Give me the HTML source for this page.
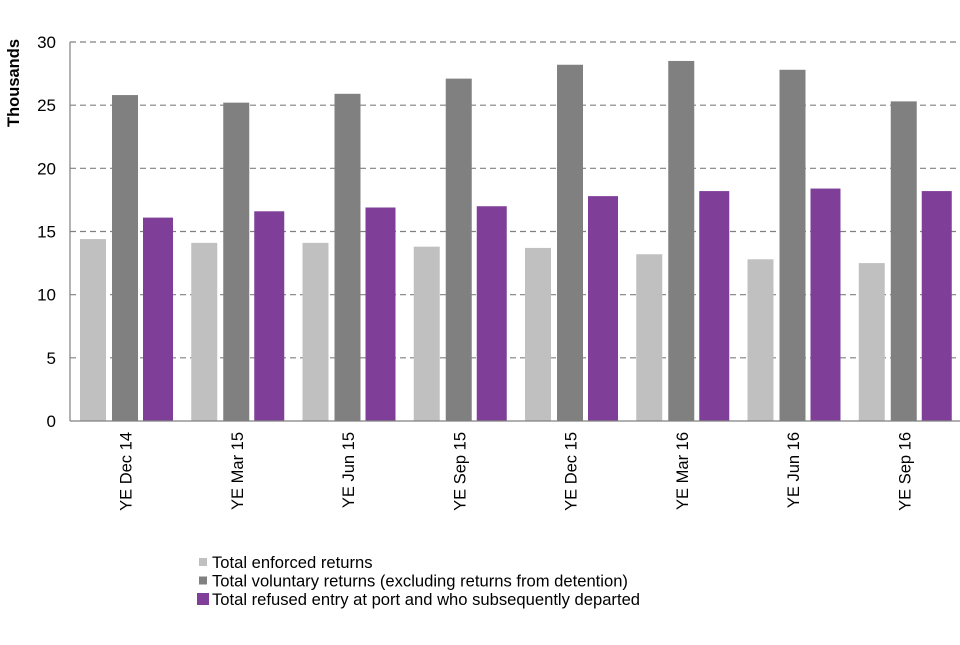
<!DOCTYPE html>
<html><head><meta charset="utf-8"><style>
body{margin:0;background:#fff;font-family:"Liberation Sans",Arial,sans-serif}
svg text{font-family:"Liberation Sans",Arial,sans-serif}
</style></head><body>
<svg width="960" height="640" viewBox="0 0 960 640">
<g id="grid"></g><g id="bars"></g><g id="axes"></g><g id="legend"></g>
</svg>
<script>
const categories=["YE Dec 14","YE Mar 15","YE Jun 15","YE Sep 15","YE Dec 15","YE Mar 16","YE Jun 16","YE Sep 16"];
const enforced=[14.4,14.1,14.1,13.8,13.7,13.2,12.8,12.5];
const voluntary=[25.8,25.2,25.9,27.1,28.2,28.5,27.8,25.3];
const refused=[16.1,16.6,16.9,17.0,17.8,18.2,18.4,18.2];
const yTicks=[0,5,10,15,20,25,30];
const seriesNames=["Total enforced returns","Total voluntary returns (excluding returns from detention)","Total refused entry at port and who subsequently departed"];
const NS="http://www.w3.org/2000/svg";
const X0=70,X1=960,Y0=421,Y1=42,YMAX=30;
const catW=(X1-X0)/categories.length;
const y=v=>Y0-(v/YMAX)*(Y0-Y1);
const xc=i=>X0+i*catW;
function mk(tag,attrs,parent){const e=document.createElementNS(NS,tag);for(const k in attrs)e.setAttribute(k,attrs[k]);parent.appendChild(e);return e;}
const grid=document.getElementById('grid'),bars=document.getElementById('bars'),axes=document.getElementById('axes'),legend=document.getElementById('legend');
yTicks.forEach(t=>{
 if(t>0){const l=mk('line',{x1:X0,x2:X1,y1:y(t),y2:y(t),stroke:'#808080','stroke-width':1.2,'stroke-dasharray':'6,4'},grid);
 
 }
 const tx=mk('text',{x:56,y:y(t)+6,'text-anchor':'end','font-size':17,fill:'#000'},axes);tx.textContent=t;
 
 
});
const series=[{d:enforced,c:'#c0c0c0',off:10,w:26,n:'enforced'},{d:voluntary,c:'#808080',off:42,w:26,n:'voluntary'},{d:refused,c:'#7f3f98',off:73,w:30,n:'refused'}];
categories.forEach((cat,i)=>{
 series.forEach(s=>{
  const r=mk('rect',{x:xc(i)+s.off,y:y(s.d[i]),width:s.w,height:Y0-y(s.d[i]),fill:s.c},bars);
  
  
 });
 const cx=xc(i)+catW/2;
 const t=mk('text',{x:0,y:0,'text-anchor':'end','font-size':16.5,fill:'#000',transform:`translate(${cx+6},432) rotate(-90)`},axes);
 t.textContent=cat;
 
 
});
const ya=mk('line',{x1:X0,x2:X0,y1:Y1,y2:Y0,stroke:'#808080','stroke-width':1.2},axes);


const xa=mk('line',{x1:X0,x2:X1,y1:Y0,y2:Y0,stroke:'#808080','stroke-width':1.2},axes);


const yt=mk('text',{x:0,y:0,'text-anchor':'middle','font-size':16.5,'font-weight':'bold',fill:'#000',transform:'translate(19,83) rotate(-90)'},axes);
yt.textContent='Thousands';


const lc=['#c0c0c0','#808080','#7f3f98'];
seriesNames.forEach((n,i)=>{
 const cy=562+i*18.5;
 const sz=i==2?12:8;
 const r=mk('rect',{x:i==2?197:199,y:cy-sz/2,width:sz,height:sz,fill:lc[i]},legend);
 
 
 const t=mk('text',{x:212,y:cy+6,'font-size':16.6,fill:'#000'},legend);t.textContent=n;
 
 
});
</script>
</body></html>
